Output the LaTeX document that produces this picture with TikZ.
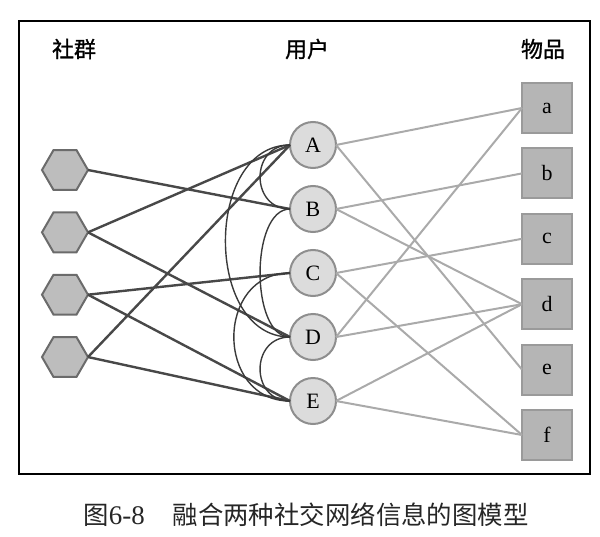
\documentclass[tikz,border=0pt]{standalone}
\usepackage{fontspec}
\setmainfont{Liberation Serif}
\newfontfamily\cjk{Noto Sans CJK SC}
\newfontfamily\cjkhead[FakeBold=1.2]{Noto Sans CJK SC}
\usepackage{xcolor}
\usepackage{tikz}
\usetikzlibrary{positioning, shapes.geometric}

\definecolor{userfill}{HTML}{DCDCDC}
\definecolor{userline}{HTML}{8E8E8E}
\definecolor{itemfill}{HTML}{B5B5B5}
\definecolor{itemline}{HTML}{9A9A9A}
\definecolor{hexfill}{HTML}{BDBDBD}
\definecolor{hexline}{HTML}{6B6B6B}
\definecolor{tiecol}{HTML}{484848}
\definecolor{arccol}{HTML}{3A3A3A}
\definecolor{buycol}{HTML}{AAAAAA}

\begin{document}
\begin{tikzpicture}[
    x=1bp, y=-1bp,
    user/.style={circle, draw=userline, fill=userfill, line width=2bp, minimum size=46bp, inner sep=0pt, outer sep=0pt, font=\fontsize{22}{24}\selectfont},
    item/.style={rectangle, draw=itemline, fill=itemfill, line width=2bp, minimum width=50bp, minimum height=50bp, inner sep=0pt, outer sep=0pt, font=\fontsize{22}{24}\selectfont},
    group/.style={regular polygon, regular polygon sides=6, draw=hexline, fill=hexfill, line width=2bp, minimum size=46bp, inner sep=0pt, outer sep=0pt},
    head/.style={font=\cjkhead\fontsize{22}{26}\selectfont},
    tie/.style={draw=tiecol, line width=2.4bp},
    friend/.style={draw=arccol, line width=1.4bp},
    buy/.style={draw=buycol, line width=2bp}
  ]
    \useasboundingbox (0,0) rectangle (600,537);
    \draw[line width=1.5bp] (19,21) rectangle (590,474);
    % column titles
    \node[head] (tgroup) at (74,49) {社群};
    \node[head] (tuser) at (307,49) {用户};
    \node[head] (titem) at (543,49) {物品};
    % communities
    \node[group] (h1) at (65,170) {};
    \node[group, below=22.5bp of h1] (h2) {};
    \node[group, below=22.5bp of h2] (h3) {};
    \node[group, below=22.5bp of h3] (h4) {};
    % users
    \node[user] (A) at (313,145) {A};
    \node[user, below=18bp of A] (B) {B};
    \node[user, below=18bp of B] (C) {C};
    \node[user, below=18bp of C] (D) {D};
    \node[user, below=18bp of D] (E) {E};
    % items
    \node[item] (a) at (547,108) {a};
    \node[item, below=15.4bp of a] (b) {b};
    \node[item, below=15.4bp of b] (c) {c};
    \node[item, below=15.4bp of c] (d) {d};
    \node[item, below=15.4bp of d] (e) {e};
    \node[item, below=15.4bp of e] (f) {f};
    % community - user
    \draw[tie] (h1.east) -- (B.west);
    \draw[tie] (h2.east) -- (A.west);
    \draw[tie] (h2.east) -- (D.west);
    \draw[tie] (h3.east) -- (C.west);
    \draw[tie] (h3.east) -- (E.west);
    \draw[tie] (h4.east) -- (A.west);
    \draw[tie] (h4.east) -- (E.west);
    % user - user
    \draw[friend] (A.west) to[out=180, in=180, looseness=1.6] (B.west);
    \draw[friend] (B.west) to[out=180, in=180, looseness=0.8] (D.west);
    \draw[friend] (D.west) to[out=180, in=180, looseness=1.6] (E.west);
    \draw[friend] (A.west) to[out=180, in=180, looseness=1.15] (D.west);
    \draw[friend] (C.west) to[out=180, in=180, looseness=1.5] (E.west);
    % user - item
    \draw[buy] (A.east) -- (a.west);
    \draw[buy] (A.east) -- (e.west);
    \draw[buy] (B.east) -- (b.west);
    \draw[buy] (B.east) -- (d.west);
    \draw[buy] (C.east) -- (c.west);
    \draw[buy] (C.east) -- (f.west);
    \draw[buy] (D.east) -- (a.west);
    \draw[buy] (D.east) -- (d.west);
    \draw[buy] (E.east) -- (d.west);
    \draw[buy] (E.east) -- (f.west);
    \node[font=\cjk\fontsize{25.5}{28}\selectfont, text=black!85] (caption) at (306,515) {图\textrm{\fontsize{27}{28}\selectfont 6-8}\hspace{1.1em}融合两种社交网络信息的图模型};
  \end{tikzpicture}
\end{document}
